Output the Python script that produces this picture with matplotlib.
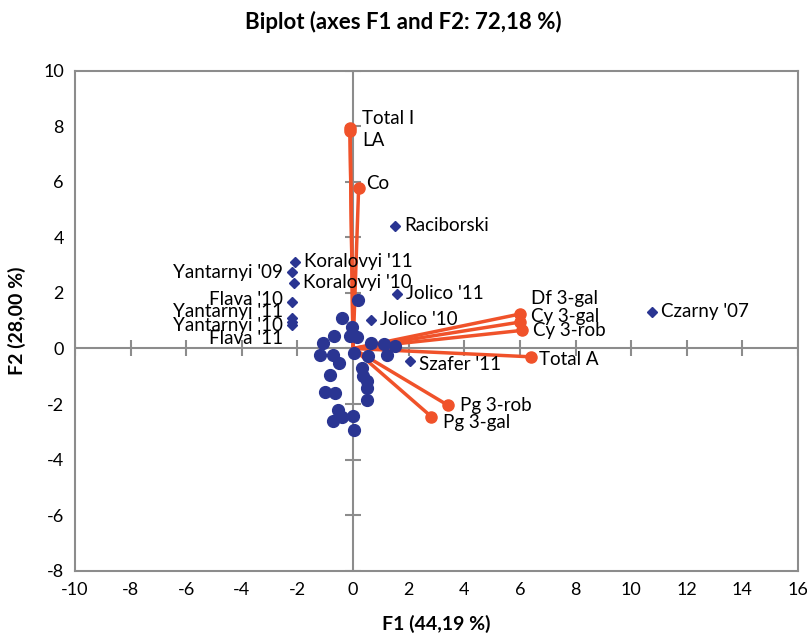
import matplotlib
matplotlib.use("Agg")
import matplotlib.pyplot as plt

plt.rcParams['font.family'] = ['Lato', 'DejaVu Sans']
plt.rcParams['axes.unicode_minus'] = False

# variables (vectors from origin)
var_names = ["Total I", "LA", "Co", "Df 3-gal", "Cy 3-gal", "Cy 3-rob", "Total A", "Pg 3-rob", "Pg 3-gal"]
var_f1 = [-0.11, -0.11, 0.20, 6.00, 6.00, 6.06, 6.39, 3.42, 2.81]
var_f2 = [7.93, 7.82, 5.78, 1.24, 0.95, 0.65, -0.30, -2.05, -2.45]
# label offsets in px (dx, dy down)
var_off = [(12, -10), (12, 9), (7, -4), (11, -16), (11, -6), (11, 0), (8, 3), (12, 0), (12, 6)]

# labelled observations
obs_names = ["Czarny '07", "Raciborski", "Koralovyi '11", "Yantarnyi '09", "Koralovyi '10", "Flava '10",
             "Yantarnyi '11", "Yantarnyi '10", "Flava '11", "Jolico '11", "Jolico '10", "Szafer '11"]
obs_f1 = [10.74, 1.50, -2.10, -2.20, -2.13, -2.20, -2.20, -2.20, -2.20, 1.58, 0.65, 2.06]
obs_f2 = [1.33, 4.42, 3.13, 2.75, 2.37, 1.66, 1.10, 0.97, 0.83, 1.97, 1.04, -0.44]
obs_off = [(9, 0), (9, 0), (9, 0), (-9, 0), (9, 0), (-9, -3), (-9, -6), (-9, 4), (-9, 13), (9, 0), (9, 0), (9, 4)]

# unlabelled observations
pts_f1 = [0.19, -0.41, -0.05, -0.68, -0.11, 0.13, -1.07, 0.64, 1.12, 1.51, 0.05, -1.19, -0.71, -0.49,
          0.55, 1.23, -0.83, 0.31, 0.37, 0.51, 0.51, 0.51, -1.02, -0.66, -0.53, -0.41, -0.71, -0.01, 0.04]
pts_f2 = [1.75, 1.09, 0.78, 0.45, 0.45, 0.40, 0.21, 0.19, 0.15, 0.09, -0.17, -0.24, -0.24, -0.51,
          -0.27, -0.23, -0.95, -0.71, -0.99, -1.16, -1.43, -1.85, -1.57, -1.59, -2.21, -2.48, -2.60, -2.43, -2.93]

xticks = list(range(-10, 17, 2))
yticks = list(range(-8, 11, 2))

orange = '#F0522A'
navy = '#2A3592'
gray = '#8C8C8C'

fig = plt.figure(figsize=(8.07, 6.37), dpi=100)
ax = fig.add_axes([75/807, 1-570.7/637, (798-75)/807, (570.7-70.7)/637])
ax.set_xlim(-10, 16)
ax.set_ylim(-8, 10)

for s in ax.spines.values():
    s.set_color(gray)
    s.set_linewidth(1.5)

ax.set_xticks(xticks)
ax.set_yticks(yticks)
ax.tick_params(length=0, labelsize=13, pad=8)

# zero axes with crossing ticks
ax.axhline(0, color=gray, lw=1.5, zorder=1)
ax.axvline(0, color=gray, lw=1.5, zorder=1)
ax.plot(xticks, [0]*len(xticks), ls='none', marker='|', ms=11, mew=1.5, color=gray, zorder=1)
ax.plot([0]*len(yticks), yticks, ls='none', marker='_', ms=11, mew=1.5, color=gray, zorder=1)

# vectors
for x, y in zip(var_f1, var_f2):
    ax.plot([0, x], [0, y], color=orange, lw=2.5, zorder=2)
ax.plot(var_f1, var_f2, ls='none', marker='o', ms=8, color=orange, zorder=3)
for name, x, y, (dx, dy) in zip(var_names, var_f1, var_f2, var_off):
    ax.annotate(name, (x, y), xytext=(dx*0.72, -dy*0.72), textcoords='offset points',
                ha='left', va='center', fontsize=13.5, zorder=5)

# observations
ax.plot(pts_f1, pts_f2, ls='none', marker='o', ms=8.5, color=navy, zorder=4)
ax.plot(obs_f1, obs_f2, ls='none', marker='D', ms=5.5, color=navy, zorder=4)
for name, x, y, (dx, dy) in zip(obs_names, obs_f1, obs_f2, obs_off):
    ax.annotate(name, (x, y), xytext=(dx*0.72, -dy*0.72), textcoords='offset points',
                ha='left' if dx > 0 else 'right', va='center', fontsize=13.5, zorder=5)

fig.text(0.5, 1-22/637, 'Biplot (axes F1 and F2: 72,18 %)', ha='center', va='center',
         fontsize=16, fontweight='bold')
ax.set_xlabel('F1 (44,19 %)', fontsize=14, fontweight='bold', labelpad=12)
ax.set_ylabel('F2 (28,00 %)', fontsize=14, fontweight='bold', labelpad=12)

fig.savefig('out.png', dpi=100)
